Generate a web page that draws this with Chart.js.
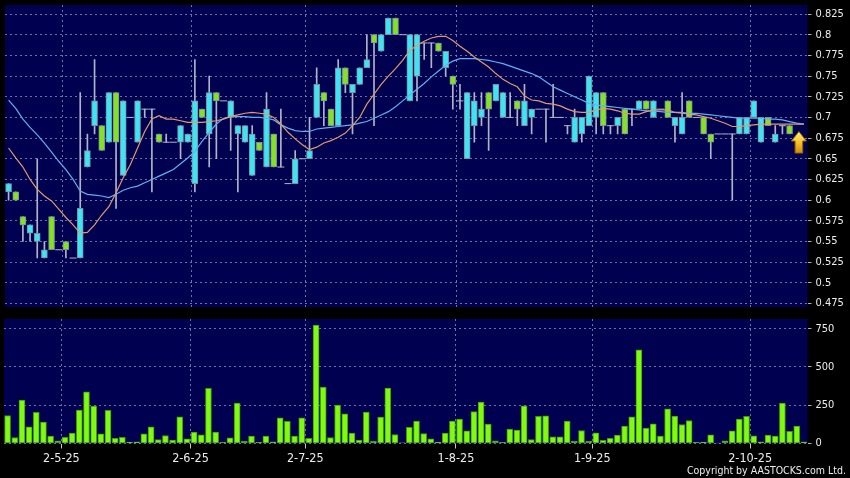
<!DOCTYPE html>
<html>
<head>
<meta charset="utf-8">
<script src="https://cdn.jsdelivr.net/npm/chart.js@4.4.1/dist/chart.umd.min.js"></script>
<style>
  html, body { margin: 0; padding: 0; background: #000; }
  #wrap { position: relative; width: 850px; height: 478px; }
  canvas { position: absolute; left: 0; display: block; }
  #price { top: 0; }
  #vol { top: 312px; }
</style>
</head>
<body>
<div id="wrap">
  <canvas id="price" width="850" height="312"></canvas>
  <canvas id="vol" width="850" height="166"></canvas>
</div>
<script>
// daily candles, oldest first (last two days only have volume visible)
let opens = [0.61,0.61,0.58,0.56,0.55,0.53,0.58,0.54,0.55,0.53,
  0.53,0.64,0.69,0.69,0.67,0.73,0.63,0.70,0.67,0.71,
  0.71,0.68,0.67,0.67,0.67,0.67,0.62,0.71,0.68,0.73,
  0.72,0.70,0.68,0.67,0.63,0.67,0.64,0.68,0.64,0.62,
  0.62,0.65,0.65,0.70,0.73,0.71,0.69,0.76,0.73,0.74,
  0.76,0.80,0.78,0.80,0.82,0.80,0.72,0.75,0.79,0.79,
  0.79,0.76,0.75,0.72,0.65,0.69,0.70,0.73,0.72,0.70,
  0.70,0.72,0.69,0.70,0.71,0.71,0.70,0.70,0.69,0.67,
  0.68,0.69,0.70,0.73,0.69,0.69,0.71,0.71,0.71,0.72,
  0.70,0.71,0.72,0.69,0.68,0.72,0.70,0.70,0.68,0.68,
  0.68,0.68,0.68,0.68,0.70,0.67,0.70,0.67,0.69,0.69,
  null,null];
let highs = [0.62,0.61,0.58,0.57,0.65,0.55,0.58,0.54,0.55,0.53,
  0.73,0.68,0.77,0.69,0.73,0.73,0.72,0.70,0.72,0.71,
  0.71,0.68,0.68,0.67,0.69,0.68,0.77,0.71,0.75,0.73,
  0.72,0.72,0.69,0.69,0.69,0.67,0.73,0.68,0.71,0.62,
  0.66,0.65,0.70,0.76,0.73,0.71,0.77,0.76,0.74,0.76,
  0.80,0.80,0.80,0.82,0.82,0.80,0.80,0.80,0.79,0.79,
  0.79,0.78,0.75,0.74,0.73,0.73,0.73,0.73,0.74,0.73,
  0.73,0.72,0.74,0.71,0.71,0.71,0.74,0.70,0.69,0.71,
  0.70,0.75,0.73,0.73,0.69,0.70,0.71,0.71,0.72,0.72,
  0.72,0.71,0.72,0.70,0.73,0.72,0.70,0.70,0.68,0.68,
  0.68,0.68,0.70,0.70,0.72,0.70,0.70,0.69,0.69,0.69,
  null,null];
let lows = [0.60,0.60,0.55,0.55,0.53,0.53,0.54,0.54,0.53,0.53,
  0.53,0.64,0.68,0.66,0.67,0.59,0.63,0.70,0.67,0.70,
  0.61,0.67,0.67,0.67,0.65,0.67,0.61,0.70,0.64,0.65,
  0.72,0.66,0.61,0.67,0.63,0.66,0.64,0.64,0.64,0.62,
  0.62,0.65,0.65,0.70,0.69,0.69,0.69,0.73,0.68,0.74,
  0.76,0.69,0.78,0.80,0.80,0.80,0.72,0.72,0.77,0.76,
  0.78,0.75,0.71,0.71,0.65,0.67,0.69,0.66,0.72,0.70,
  0.70,0.69,0.69,0.68,0.71,0.67,0.70,0.70,0.68,0.67,
  0.67,0.69,0.68,0.68,0.68,0.68,0.68,0.69,0.71,0.71,
  0.70,0.71,0.70,0.67,0.68,0.70,0.70,0.68,0.65,0.68,
  0.68,0.60,0.68,0.68,0.70,0.67,0.69,0.67,0.68,0.68,
  null,null];
let closes = [0.62,0.60,0.57,0.57,0.56,0.54,0.54,0.54,0.54,0.53,
  0.59,0.66,0.72,0.66,0.73,0.67,0.72,0.70,0.72,0.71,
  0.71,0.67,0.67,0.67,0.69,0.68,0.72,0.70,0.73,0.72,
  0.72,0.72,0.69,0.69,0.68,0.66,0.71,0.64,0.64,0.62,
  0.65,0.65,0.66,0.74,0.72,0.69,0.76,0.74,0.74,0.76,
  0.77,0.79,0.80,0.82,0.80,0.80,0.80,0.80,0.79,0.79,
  0.78,0.78,0.74,0.72,0.73,0.72,0.71,0.71,0.74,0.73,
  0.70,0.71,0.72,0.71,0.71,0.71,0.70,0.70,0.69,0.70,
  0.70,0.75,0.73,0.69,0.69,0.70,0.68,0.71,0.72,0.71,
  0.72,0.71,0.70,0.70,0.70,0.70,0.70,0.68,0.67,0.68,
  0.68,0.68,0.70,0.70,0.72,0.70,0.69,0.68,0.69,0.68,
  null,null];

// moving averages
let maShort = [0.663,0.651,0.640,0.625,0.613,0.605,0.599,0.589,0.579,0.570,
  0.560,0.561,0.570,0.582,0.592,0.609,0.627,0.643,0.663,0.683,
  0.698,0.702,0.698,0.698,0.696,0.694,0.694,0.694,0.695,0.696,
  0.698,0.701,0.703,0.705,0.706,0.705,0.704,0.700,0.692,0.682,
  0.674,0.667,0.661,0.664,0.669,0.672,0.676,0.681,0.690,0.700,
  0.716,0.728,0.740,0.750,0.759,0.769,0.781,0.787,0.792,0.796,
  0.798,0.798,0.793,0.786,0.780,0.773,0.767,0.761,0.753,0.746,
  0.741,0.737,0.726,0.721,0.720,0.717,0.716,0.714,0.710,0.707,
  0.706,0.706,0.709,0.711,0.710,0.708,0.705,0.704,0.704,0.707,
  0.709,0.709,0.709,0.706,0.705,0.704,0.703,0.701,0.699,0.696,
  0.693,0.689,0.689,0.690,0.691,0.692,0.692,0.692,0.692,0.692,
  0.692,0.692];
let maLong = [0.721,0.711,0.698,0.688,0.679,0.669,0.658,0.647,0.637,0.625,
  0.611,0.607,0.606,0.605,0.603,0.607,0.612,0.615,0.617,0.621,
  0.625,0.629,0.633,0.637,0.644,0.651,0.659,0.671,0.682,0.692,
  0.699,0.701,0.701,0.701,0.700,0.700,0.699,0.697,0.691,0.687,
  0.684,0.683,0.683,0.686,0.687,0.688,0.689,0.690,0.691,0.693,
  0.695,0.699,0.703,0.707,0.713,0.720,0.727,0.734,0.741,0.749,
  0.756,0.763,0.768,0.771,0.771,0.771,0.770,0.769,0.767,0.765,
  0.762,0.759,0.756,0.753,0.749,0.743,0.737,0.733,0.729,0.725,
  0.721,0.717,0.715,0.714,0.713,0.712,0.711,0.710,0.709,0.708,
  0.708,0.707,0.706,0.706,0.706,0.705,0.705,0.704,0.703,0.702,
  0.701,0.700,0.699,0.699,0.699,0.699,0.698,0.698,0.697,0.695,
  0.693,0.692];

let volumes = [183,39,283,109,203,140,48,17,41,68,
  218,338,244,63,216,33,41,9,11,63,
  109,26,52,22,174,31,74,57,360,74,
  7,37,264,15,48,7,48,11,168,144,
  48,168,33,774,369,39,251,194,68,22,
  205,15,172,362,59,4,105,146,65,31,
  9,68,146,159,83,209,270,126,17,7,
  94,87,246,26,177,181,44,44,146,15,
  85,15,70,20,33,55,113,174,611,100,
  129,48,227,179,124,150,7,9,57,2,
  17,83,159,177,50,11,55,48,264,79,
  113,11];

let dateTickPos = [7.5, 25.5, 41.5, 62.5, 81.5, 103.5];
let dateLabels = ["2-5-25", "2-6-25", "2-7-25", "1-8-25", "1-9-25", "2-10-25"];
let priceTicks = [0.475,0.5,0.525,0.55,0.575,0.6,0.625,0.65,0.675,0.7,0.725,0.75,0.775,0.8,0.825];
let volTicks = [0, 250, 500, 750];

const navy = "#000050";
const gridCol = "rgba(140,140,190,0.8)";
const textCol = "#ececec";
const upCol = "#3fe4f2";
const downCol = "#84e224";
const wickCol = "#b0b4c4";
const fontFam = "'DejaVu Sans Condensed', 'DejaVu Sans', sans-serif";

let n = volumes.length;
let wicks = [], bodies = [], dojis = [], bodyColors = [];
for (let i = 0; i < n; i++) {
  if (closes[i] === null) continue;
  if (highs[i] > lows[i]) wicks.push({x: i, y: [lows[i], highs[i]]});
  if (opens[i] === closes[i]) {
    dojis.push({x: i, y: closes[i]});
  } else {
    bodies.push({x: i, y: [opens[i], closes[i]]});
    bodyColors.push(closes[i] > opens[i] ? upCol : downCol);
  }
}
let lastIdx = closes.length - 1;
while (closes[lastIdx] === null) lastIdx--;

// keep the plot edges where the picture has them (no room reserved for edge labels)
function noEdgePad(s, w) {
  s.width = w;
  s.paddingTop = 0;
  s.paddingBottom = 0;
}

const navyArea = {
  id: "navyArea",
  beforeDraw(chart) {
    const a = chart.chartArea, ctx = chart.ctx;
    ctx.save();
    ctx.fillStyle = navy;
    ctx.fillRect(a.left, a.top, a.right - a.left, a.bottom - a.top);
    ctx.restore();
  }
};

// yellow marker pointing at the last close
const lastArrow = {
  id: "lastArrow",
  afterDatasetsDraw(chart) {
    const ctx = chart.ctx;
    const x = chart.scales.x.getPixelForValue(lastIdx + 1.3);
    const y = chart.scales.y.getPixelForValue(closes[lastIdx]) - 2.4;
    ctx.save();
    const g = ctx.createLinearGradient(0, y, 0, y + 22);
    g.addColorStop(0, "#fff07a");
    g.addColorStop(0.5, "#f5c22a");
    g.addColorStop(1, "#d08a00");
    ctx.beginPath();
    ctx.moveTo(x, y);
    ctx.lineTo(x + 7.5, y + 9.5);
    ctx.lineTo(x + 3.8, y + 9.5);
    ctx.lineTo(x + 3.8, y + 21.5);
    ctx.lineTo(x - 3.8, y + 21.5);
    ctx.lineTo(x - 3.8, y + 9.5);
    ctx.lineTo(x - 7.5, y + 9.5);
    ctx.closePath();
    ctx.fillStyle = g;
    ctx.fill();
    ctx.strokeStyle = "#9a6200";
    ctx.lineWidth = 1;
    ctx.stroke();
    ctx.restore();
  }
};

const copyright = {
  id: "copyright",
  afterDraw(chart) {
    const ctx = chart.ctx;
    ctx.save();
    ctx.font = "10.5px " + fontFam;
    ctx.fillStyle = textCol;
    ctx.textAlign = "right";
    ctx.textBaseline = "middle";
    ctx.fillText("Copyright by AASTOCKS.com Ltd.", 846, 159);
    ctx.restore();
  }
};

let priceChart = new Chart(document.getElementById("price"), {
  type: "bar",
  data: {
    datasets: [{
      type: "line",
      data: maShort.map((v, i) => ({x: i, y: v})),
      borderColor: "#e3996c",
      borderWidth: 1.2,
      pointRadius: 0,
      order: 0
    }, {
      type: "line",
      data: maLong.map((v, i) => ({x: i, y: v})),
      borderColor: "#5cb2ee",
      borderWidth: 1.2,
      pointRadius: 0,
      order: 0
    }, {
      type: "line",
      data: dojis,
      showLine: false,
      pointStyle: "line",
      pointRadius: 3.5,
      pointBorderColor: wickCol,
      pointBorderWidth: 1,
      order: 1
    }, {
      data: bodies,
      backgroundColor: bodyColors,
      borderColor: "#7e8c9c",
      borderWidth: 1,
      borderSkipped: false,
      barThickness: 6,
      grouped: false,
      order: 2
    }, {
      data: wicks,
      backgroundColor: wickCol,
      borderWidth: 0,
      barThickness: 1,
      grouped: false,
      order: 3
    }]
  },
  options: {
    responsive: false,
    animation: false,
    events: [],
    devicePixelRatio: 1,
    layout: { padding: { left: 4, top: 5, bottom: 5, right: 0 } },
    plugins: { legend: { display: false }, tooltip: { enabled: false } },
    scales: {
      x: {
        type: "linear", min: -0.5, max: n - 0.5, offset: false,
        afterBuildTicks: s => { s.ticks = dateTickPos.map(v => ({value: v})); },
        afterFit: s => { s.height = 0; s.paddingLeft = 0; s.paddingRight = 0; },
        ticks: { display: false },
        grid: { color: gridCol, drawTicks: false, offset: false },
        border: { display: false, dash: [2, 3] }
      },
      y: {
        position: "right", min: 0.4708, max: 0.8359,
        afterBuildTicks: s => { s.ticks = priceTicks.map(v => ({value: v})); },
        afterFit: s => noEdgePad(s, 42.5),
        ticks: {
          color: textCol, padding: 4,
          font: { family: fontFam, size: 11 },
          callback: v => String(v)
        },
        grid: { color: gridCol, tickLength: 4, tickColor: "#b0b0b0" },
        border: { display: false, dash: [2, 3] }
      }
    }
  },
  plugins: [navyArea, lastArrow]
});

let volChart = new Chart(document.getElementById("vol"), {
  type: "bar",
  data: {
    datasets: [{
      data: volumes.map((v, i) => ({x: i, y: v})),
      backgroundColor: "#80fa10",
      borderColor: "#3f9a08",
      borderWidth: 1,
      borderSkipped: false,
      barThickness: 6
    }]
  },
  options: {
    responsive: false,
    animation: false,
    events: [],
    devicePixelRatio: 1,
    layout: { padding: { left: 4, top: 7, bottom: 0, right: 0 } },
    plugins: { legend: { display: false }, tooltip: { enabled: false } },
    scales: {
      x: {
        type: "linear", min: -0.5, max: n - 0.5, offset: false,
        afterBuildTicks: s => { s.ticks = dateTickPos.map(v => ({value: v})); },
        afterFit: s => { s.height = 34.5; s.paddingLeft = 0; s.paddingRight = 0; },
        ticks: {
          color: textCol, padding: 3, maxRotation: 0, autoSkip: false,
          font: { family: fontFam, size: 12.5 },
          callback: (v, i) => dateLabels[i]
        },
        grid: { color: gridCol, tickLength: 5, tickColor: "#c8c8c8", offset: false },
        border: { display: false, dash: [2, 3] }
      },
      y: {
        position: "right", min: 0, max: 813,
        afterBuildTicks: s => { s.ticks = volTicks.map(v => ({value: v})); },
        afterFit: s => noEdgePad(s, 42.5),
        ticks: {
          color: textCol, padding: 4,
          font: { family: fontFam, size: 11 },
          callback: v => String(v)
        },
        grid: { color: gridCol, tickLength: 4, tickColor: "#b0b0b0" },
        border: { display: false, dash: [2, 3] }
      }
    }
  },
  plugins: [navyArea, copyright]
});
</script>
</body>
</html>
